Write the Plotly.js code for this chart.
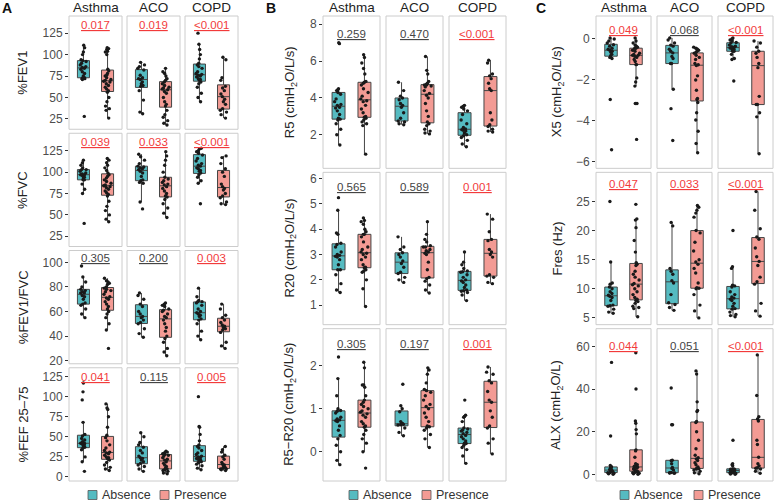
<!DOCTYPE html>
<html>
<head>
<meta charset="utf-8">
<script src="https://cdn.plot.ly/plotly-3.0.1.min.js"></script>
<style>html,body{margin:0;padding:0;background:#fff;}#chart{width:774px;height:500px;}</style>
</head>
<body>
<div id="chart"></div>
<script>
// ---------------- DATA ----------------
const groups = ['Asthma', 'ACO', 'COPD'];
const statuses = ['Absence', 'Presence'];

// Each array: [Asthma-Absence, Asthma-Presence, ACO-Absence, ACO-Presence, COPD-Absence, COPD-Presence]
const fev1 = [
  [28, 71, 72, 72, 73, 73, 75, 78, 80, 83, 84, 85, 86, 88, 90, 92, 93, 94, 100, 103, 108, 111],
  [26, 35, 37, 40, 45, 50, 56, 58, 60, 62, 64, 66, 68, 69, 70, 71, 73, 75, 76, 78, 81, 83, 100, 103, 104, 106, 107, 108],
  [31, 33, 47, 58, 63, 64, 66, 68, 71, 72, 73, 76, 82, 84, 86, 88, 91],
  [18, 20, 23, 27, 30, 35, 40, 42, 45, 50, 55, 57, 59, 60, 61, 62, 64, 66, 68, 70, 72, 75, 78, 80, 84],
  [45, 50, 55, 62, 66, 68, 70, 71, 72, 74, 75, 76, 77, 78, 80, 84, 86, 88, 90, 95, 100, 106, 112, 125],
  [26, 30, 33, 35, 37, 42, 45, 48, 51, 54, 58, 61, 63, 70, 73, 94, 97]
];
const fvc = [
  [40, 75, 80, 86, 91, 91, 93, 94, 96, 97, 97, 98, 99, 101, 103, 103, 105, 108, 111, 114],
  [42, 45, 50, 55, 60, 66, 72, 74, 76, 78, 80, 82, 83, 84, 85, 87, 89, 91, 93, 95, 97, 99, 102, 105, 108, 111, 114, 116],
  [57, 65, 87, 88, 90, 91, 95, 99, 101, 103, 104, 105, 106, 107, 110, 114, 118, 121],
  [47, 52, 58, 63, 68, 71, 72, 75, 78, 81, 83, 85, 86, 88, 90, 92, 94, 100, 108, 114, 119, 124],
  [63, 87, 90, 94, 97, 99, 101, 102, 104, 105, 107, 108, 110, 113, 116, 120, 122, 124, 125, 127, 128],
  [62, 63, 65, 70, 72, 75, 79, 81, 83, 86, 95, 100, 104, 110, 117, 119]
];
const fev1fvc = [
  [55, 58, 62, 65, 66, 67, 70, 72, 73, 75, 75, 76, 77, 78, 80, 84, 88, 97],
  [30, 45, 50, 55, 58, 60, 62, 64, 66, 68, 70, 71, 72, 74, 76, 77, 78, 79, 80, 82, 83, 84, 85, 87],
  [39, 42, 46, 50, 51, 53, 55, 56, 58, 60, 64, 66, 70, 73, 75],
  [24, 27, 30, 35, 38, 40, 44, 47, 50, 53, 55, 56, 58, 60, 61, 62, 64, 65, 66, 67],
  [37, 40, 44, 50, 53, 54, 56, 57, 58, 59, 60, 62, 65, 67, 68, 68, 69, 72, 79],
  [30, 32, 35, 43, 45, 46, 47, 48, 49, 51, 53, 55, 57, 62, 66]
];
const fef2575 = [
  [7, 19, 25, 34, 36, 37, 39, 40, 41, 42, 42, 44, 46, 48, 51, 53, 68, 96, 106, 117],
  [8, 10, 12, 15, 18, 21, 23, 24, 25, 27, 29, 30, 31, 33, 36, 40, 45, 49, 52, 62, 75, 84, 86, 91],
  [7, 10, 13, 15, 17, 19, 21, 23, 24, 26, 30, 33, 37, 40, 43, 50, 55],
  [4, 5, 7, 8, 9, 10, 11, 13, 15, 17, 19, 21, 22, 24, 26, 27, 28, 29, 30, 31, 31, 32],
  [9, 11, 14, 16, 18, 19, 20, 21, 22, 23, 24, 25, 26, 28, 30, 33, 36, 38, 40, 45, 53, 62, 63, 100],
  [8, 9, 10, 10, 11, 12, 14, 15, 16, 18, 22, 25, 27, 31, 34, 38]
];
const r5 = [
  [1.45, 2.0, 2.3, 2.6, 2.8, 2.85, 2.9, 3.1, 3.3, 3.45, 3.5, 3.6, 3.65, 3.8, 3.95, 4.2, 4.3, 4.4, 4.45, 4.5, 6.95, 7.0],
  [0.95, 2.5, 2.6, 2.7, 2.8, 2.9, 2.95, 3.0, 3.2, 3.4, 3.6, 3.8, 3.85, 3.95, 4.1, 4.3, 4.5, 4.7, 4.8, 4.85, 4.9, 5.3, 5.6, 5.9, 6.2, 6.35],
  [2.55, 2.6, 2.7, 2.75, 2.9, 3.2, 3.5, 3.6, 3.7, 3.9, 4.0, 4.1, 4.4, 4.85],
  [2.05, 2.1, 2.2, 2.3, 2.5, 2.6, 2.7, 3.0, 3.3, 3.7, 4.0, 4.15, 4.25, 4.4, 4.6, 4.65, 4.7, 4.7, 4.75, 4.8, 4.9, 5.3, 5.5, 6.25],
  [1.35, 1.5, 1.7, 1.85, 1.95, 2.0, 2.1, 2.2, 2.25, 2.28, 2.32, 2.4, 2.6, 2.8, 3.1, 3.3, 3.4, 3.5, 3.55, 3.6],
  [2.15, 2.2, 2.3, 2.45, 2.55, 2.8, 3.2, 4.4, 4.5, 4.8, 5.05, 5.2, 5.3, 5.9, 6.05]
];
const r20 = [
  [1.5, 1.6, 1.85, 2.2, 2.4, 2.4, 2.6, 2.8, 2.9, 2.93, 2.97, 3.0, 3.1, 3.3, 3.4, 3.45, 3.8, 3.85, 4.75, 5.25],
  [0.95, 1.65, 2.0, 2.3, 2.35, 2.4, 2.48, 2.5, 2.6, 2.8, 2.9, 3.0, 3.05, 3.1, 3.2, 3.3, 3.5, 3.7, 3.8, 3.8, 3.9, 4.0, 4.2, 4.3, 4.35, 4.45],
  [1.9, 2.0, 2.1, 2.25, 2.3, 2.5, 2.65, 2.75, 2.9, 3.0, 3.07, 3.2, 3.3, 3.7],
  [1.48, 1.6, 1.8, 1.95, 2.05, 2.1, 2.4, 2.7, 3.0, 3.05, 3.1, 3.15, 3.2, 3.3, 3.3, 3.35, 3.5, 3.6, 3.8, 4.3],
  [1.18, 1.4, 1.5, 1.55, 1.57, 1.6, 1.7, 1.8, 1.9, 1.96, 2.0, 2.1, 2.2, 2.3, 2.32, 2.35, 2.45, 2.6, 2.7, 3.1],
  [1.85, 1.9, 2.1, 2.15, 2.2, 2.9, 3.0, 3.1, 3.2, 3.55, 3.6, 3.9, 4.4, 4.6]
];
const r5r20 = [
  [-0.3, -0.2, 0.0, 0.15, 0.3, 0.38, 0.5, 0.6, 0.7, 0.72, 0.74, 0.76, 0.8, 0.9, 0.94, 0.96, 1.0, 1.3, 1.7, 2.2],
  [-0.38, 0.0, 0.2, 0.3, 0.4, 0.5, 0.57, 0.6, 0.65, 0.7, 0.8, 0.85, 0.88, 0.92, 0.95, 1.0, 1.05, 1.1, 1.15, 1.2, 1.3, 1.5, 1.55, 1.55, 1.95, 2.08],
  [0.37, 0.45, 0.55, 0.62, 0.63, 0.64, 0.65, 0.66, 0.7, 0.93, 1.0, 1.07, 1.57],
  [0.1, 0.3, 0.4, 0.5, 0.55, 0.58, 0.6, 0.7, 0.8, 0.9, 1.0, 1.05, 1.1, 1.2, 1.3, 1.38, 1.42, 1.45, 1.6, 1.8, 1.9, 1.95],
  [-0.27, -0.1, 0.05, 0.1, 0.15, 0.19, 0.2, 0.25, 0.3, 0.35, 0.38, 0.42, 0.45, 0.48, 0.5, 0.53, 0.55, 0.7, 0.8, 0.82, 0.85, 1.2],
  [-0.05, 0.2, 0.3, 0.55, 0.6, 0.8, 0.95, 1.15, 1.2, 1.4, 1.6, 1.65, 1.8, 1.85, 1.97]
];
const x5 = [
  [-5.4, -2.95, -0.95, -0.9, -0.82, -0.75, -0.65, -0.6, -0.55, -0.5, -0.45, -0.35, -0.28, -0.2, -0.1, 0.0, 0.05],
  [-4.9, -3.15, -3.15, -2.3, -2.1, -1.9, -1.25, -1.25, -1.1, -1.0, -0.9, -0.85, -0.8, -0.8, -0.75, -0.7, -0.6, -0.55, -0.45, -0.45, -0.4, -0.35, -0.3, -0.2, -0.1, 0.05],
  [-4.95, -3.4, -2.45, -1.2, -1.2, -0.95, -0.85, -0.68, -0.6, -0.5, -0.35, -0.3, -0.2, -0.05, 0.05],
  [-5.55, -5.1, -4.5, -3.95, -3.6, -3.1, -2.95, -2.9, -2.5, -2.0, -1.8, -1.3, -1.26, -1.2, -1.0, -0.9, -0.8, -0.7, -0.66, -0.6, -0.55, -0.5, -0.45, -0.4],
  [-2.05, -1.0, -0.95, -0.75, -0.6, -0.6, -0.55, -0.5, -0.48, -0.44, -0.4, -0.38, -0.35, -0.3, -0.2, -0.17, -0.1, -0.05, 0.0, 0.05],
  [-5.6, -3.8, -3.6, -3.2, -3.2, -2.8, -1.4, -1.2, -0.9, -0.7, -0.6, -0.4, -0.2, -0.1]
];
const fres = [
  [5.8, 6.0, 6.5, 7.0, 7.1, 7.2, 8.0, 8.5, 8.7, 8.9, 9.2, 9.5, 10.0, 10.3, 10.8, 11.0, 14.6, 25.0],
  [5.2, 6.6, 6.8, 7.0, 7.5, 7.8, 8.0, 8.2, 8.5, 9.0, 9.5, 10.0, 10.5, 10.7, 10.9, 11.5, 12.0, 12.5, 13.0, 14.0, 14.2, 14.5, 16.3, 18.3, 20.5, 21.8, 22.0, 24.5],
  [6.3, 6.8, 7.3, 7.6, 9.0, 11.0, 11.4, 12.5, 13.0, 13.5, 20.8, 21.4],
  [5.0, 6.2, 7.2, 9.0, 10.0, 10.1, 10.2, 11.0, 12.7, 13.5, 14.2, 14.6, 15.0, 16.5, 18.0, 19.6, 20.0, 22.3, 23.0, 23.5, 24.0, 24.3],
  [5.2, 5.4, 5.6, 6.0, 6.5, 6.6, 7.0, 7.5, 8.0, 8.2, 8.4, 8.6, 9.0, 9.5, 10.3, 10.5, 10.6, 13.5, 13.8, 20.0],
  [5.3, 6.2, 7.5, 10.8, 11.2, 12.0, 14.0, 14.7, 15.5, 17.0, 18.5, 18.9, 20.3, 23.5, 26.7]
];
const alx = [
  [0.1, 0.3, 0.5, 0.8, 0.9, 1.2, 1.6, 1.9, 2.1, 2.4, 3.0, 3.4, 3.6, 4.2, 18.0, 52.5],
  [0.1, 0.3, 0.5, 0.8, 1.0, 1.3, 1.5, 1.6, 2.0, 2.5, 3.0, 3.2, 3.4, 3.6, 4.0, 4.5, 5.0, 8.0, 11.0, 11.5, 19.0, 21.0, 24.0, 25.0, 40.0, 57.0],
  [0.5, 0.6, 0.7, 0.8, 0.9, 2.0, 2.8, 3.2, 5.0, 6.4, 6.6, 23.3, 23.3, 40.5],
  [0.3, 0.8, 1.5, 2.0, 2.5, 2.7, 2.9, 3.5, 4.5, 5.5, 6.5, 7.2, 7.8, 9.0, 12.0, 16.0, 20.0, 24.3, 24.8, 29.5, 30.0, 34.0, 47.0, 48.5],
  [0.1, 0.2, 0.4, 0.6, 0.8, 0.8, 1.0, 1.3, 1.5, 1.7, 1.9, 2.0, 2.2, 2.4, 2.6, 2.6, 4.0, 4.5, 5.0, 16.0],
  [0.5, 1.5, 2.5, 2.9, 3.1, 4.0, 5.0, 8.0, 14.0, 16.0, 25.0, 26.0, 27.0, 37.0, 56.0]
];

// p-values (Asthma, ACO, COPD)
const pFev1 = ['0.017', '0.019', '<0.001'];
const pFvc = ['0.039', '0.033', '<0.001'];
const pFev1fvc = ['0.305', '0.200', '0.003'];
const pFef = ['0.041', '0.115', '0.005'];
const pR5 = ['0.259', '0.470', '<0.001'];
const pR20 = ['0.565', '0.589', '0.001'];
const pR5r20 = ['0.305', '0.197', '0.001'];
const pX5 = ['0.049', '0.068', '<0.001'];
const pFres = ['0.047', '0.033', '<0.001'];
const pAlx = ['0.044', '0.051', '<0.001'];

// y-axis tick labels
const ticksFev1 = [25, 50, 75, 100, 125];
const ticksFvc = [25, 50, 75, 100, 125];
const ticksFev1fvc = [20, 40, 60, 80, 100];
const ticksFef = [0, 25, 50, 75, 100, 125];
const ticksR5 = [2, 4, 6, 8];
const ticksR20 = [1, 2, 3, 4, 5, 6];
const ticksR5r20 = [0, 1, 2];
const ticksX5 = [0, -2, -4, -6];
const ticksFres = [5, 10, 15, 20, 25];
const ticksAlx = [0, 20, 40, 60];

// ---------------- LAYOUT SPEC ----------------
const W = 774, H = 500;
const FONT = 'Liberation Sans, Arial, sans-serif';
const fillCols = ['#55BBC1', '#F39B94'];
const columns = [
  { letter: 'A', letterX: 7, titleX: 23, legendSq: [88, 160], xs: [[69, 122], [127, 180], [185, 238]],
    rows: [
      { data: fev1, p: pFev1, ticks: ticksFev1, range: [13, 145], title: '%FEV1', pOff: 9 },
      { data: fvc, p: pFvc, ticks: ticksFvc, range: [13, 145.5], title: '%FVC', pOff: 9 },
      { data: fev1fvc, p: pFev1fvc, ticks: ticksFev1fvc, range: [17.5, 109.6], title: '%FEV1/FVC', pOff: 7 },
      { data: fef2575, p: pFef, ticks: ticksFef, range: [-5, 136], title: '%FEF 25\u201375', pOff: 9 }
    ] },
  { letter: 'B', letterX: 271, titleX: 290, legendSq: [349, 422], xs: [[323, 380], [386, 443], [449, 506]],
    rows: [
      { data: r5, p: pR5, ticks: ticksR5, range: [0.18, 8.45], title: 'R5 (cmH<sub>2</sub>O/L/s)', pOff: 18 },
      { data: r20, p: pR20, ticks: ticksR20, range: [0.23, 6.25], title: 'R20 (cmH<sub>2</sub>O/L/s)', pOff: 15 },
      { data: r5r20, p: pR5r20, ticks: ticksR5r20, range: [-0.68, 2.86], title: 'R5\u2212R20 (cmH<sub>2</sub>O/L/s)', pOff: 15 }
    ] },
  { letter: 'C', letterX: 541, titleX: 557, legendSq: [620, 694], xs: [[596, 651], [657, 712], [718, 773]],
    rows: [
      { data: x5, p: pX5, ticks: ticksX5, range: [-6.31, 1.12], title: 'X5 (cmH<sub>2</sub>O/L/s)', pOff: 14 },
      { data: fres, p: pFres, ticks: ticksFres, range: [3.84, 30], title: 'Fres (Hz)', pOff: 12 },
      { data: alx, p: pAlx, ticks: ticksAlx, range: [-3.1, 68.3], title: 'ALX (cmH<sub>2</sub>O/L)', pOff: 17 }
    ] }
];
const TOP = 16, BOTTOM = 481, GAP = 4;
const LEG_Y = 495, SQ = 9;

const traces = [];
const layout = {
  width: W, height: H,
  margin: { l: 0, r: 0, t: 0, b: 0 },
  paper_bgcolor: '#ffffff', plot_bgcolor: 'rgba(0,0,0,0)',
  font: { family: FONT, color: '#333333' },
  boxmode: 'overlay',
  showlegend: false,
  shapes: [], annotations: []
};

let xCount = 0, yCount = 0;
const isSig = p => p.startsWith('<') || parseFloat(p) < 0.05;

columns.forEach((col, ci) => {
  // legend keys
  statuses.forEach((s, si) => {
    const sx = col.legendSq[si];
    layout.shapes.push({ type: 'rect', xref: 'paper', yref: 'paper',
      x0: sx / W, x1: (sx + SQ) / W, y0: 1 - (LEG_Y + SQ / 2) / H, y1: 1 - (LEG_Y - SQ / 2) / H,
      fillcolor: fillCols[si], line: { color: '#555555', width: 0.8 } });
    layout.annotations.push({ xref: 'paper', yref: 'paper', x: (sx + SQ + 3) / W, y: 1 - LEG_Y / H,
      text: s, showarrow: false, xanchor: 'left', yanchor: 'middle',
      font: { family: FONT, size: 12.5, color: '#333333' } });
  });
  // column letter
  layout.annotations.push({ xref: 'paper', yref: 'paper', x: col.letterX / W, y: 1 - 8 / H,
    text: '<b>' + col.letter + '</b>', showarrow: false, xanchor: 'center', yanchor: 'middle',
    font: { family: FONT, size: 14, color: '#111' } });
  const nR = col.rows.length;
  const h = (BOTTOM - TOP - GAP * (nR - 1)) / nR;
  col.rows.forEach((row, ri) => {
    yCount++;
    const yId = 'y' + (yCount > 1 ? yCount : '');
    const yName = 'yaxis' + (yCount > 1 ? yCount : '');
    const y0 = TOP + ri * (h + GAP), y1 = y0 + h;
    const firstX = 'x' + (xCount + 1 > 1 ? xCount + 1 : '');
    layout[yName] = {
      domain: [1 - y1 / H, 1 - y0 / H], anchor: firstX, range: row.range,
      tickvals: row.ticks, ticks: 'outside', ticklen: 3, tickwidth: 1, tickcolor: '#333',
      tickfont: { family: FONT, size: 12, color: '#4d4d4d' },
      showgrid: false, zeroline: false, showline: false, fixedrange: true
    };
    // y title
    layout.annotations.push({ xref: 'paper', yref: 'paper', x: col.titleX / W, y: 1 - (y0 + y1) / 2 / H,
      text: row.title, textangle: -90, showarrow: false, xanchor: 'center', yanchor: 'middle',
      font: { family: FONT, size: 13, color: '#222' } });
    groups.forEach((g, gi) => {
      xCount++;
      const xId = 'x' + (xCount > 1 ? xCount : '');
      const xName = 'xaxis' + (xCount > 1 ? xCount : '');
      const [px0, px1] = col.xs[gi];
      layout[xName] = {
        domain: [px0 / W, px1 / W], anchor: yId, type: 'category',
        categoryorder: 'array', categoryarray: statuses, range: [-0.6, 1.6],
        showticklabels: false, ticks: '', showgrid: false, zeroline: false, showline: false, fixedrange: true
      };
      // panel border
      layout.shapes.push({ type: 'rect', xref: xId + ' domain', yref: yId + ' domain',
        x0: 0, x1: 1, y0: 0, y1: 1, line: { color: '#cccccc', width: 1 }, layer: 'below' });
      // facet title
      if (ri === 0) {
        layout.annotations.push({ xref: 'paper', yref: 'paper', x: (px0 + px1) / 2 / W, y: 1 - 7.5 / H,
          text: g, showarrow: false, xanchor: 'center', yanchor: 'middle',
          font: { family: FONT, size: 13.5, color: '#222' } });
      }
      // p value
      const p = row.p[gi];
      layout.annotations.push({ xref: 'paper', yref: 'paper', x: (px0 + px1) / 2 / W, y: 1 - (y0 + row.pOff) / H,
        text: '<u>' + p + '</u>', showarrow: false, xanchor: 'center', yanchor: 'middle',
        font: { family: FONT, size: 11.5, color: isSig(p) ? '#F23B3B' : '#444444' } });
      statuses.forEach((s, si) => {
        const vals = row.data[gi * 2 + si];
        traces.push({
          type: 'box', x: vals.map(() => s), y: vals, name: s,
          xaxis: xId, yaxis: yId, showlegend: false,
          boxpoints: 'all', jitter: 0.65, pointpos: 0, width: 0.5, whiskerwidth: 0,
          fillcolor: fillCols[si], line: { color: '#444444', width: 1 },
          marker: { color: '#1a1a1a', size: 3.4, line: { width: 0 } },
          hoverinfo: 'skip'
        });
      });
    });
  });
});

Plotly.newPlot('chart', traces, layout, { staticPlot: true, displayModeBar: false });
</script>
</body>
</html>
